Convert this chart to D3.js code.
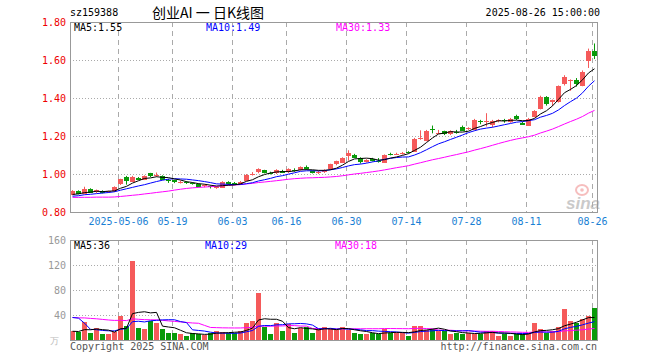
<!DOCTYPE html>
<html>
<head>
<meta charset="utf-8">
<script src="https://cdn.jsdelivr.net/npm/d3@7"></script>
<style>
  body { margin: 0; background: #fff; }
  text { font-family: "DejaVu Sans Mono", monospace; font-size: 10px; }
</style>
</head>
<body>
<div id="chart"></div>
<script>
// trading days shown
const dates = [
  "2025-04-21","2025-04-22","2025-04-23","2025-04-24","2025-04-25","2025-04-28","2025-04-29","2025-04-30",
  "2025-05-06","2025-05-07","2025-05-08","2025-05-09","2025-05-12","2025-05-13","2025-05-14","2025-05-15","2025-05-16",
  "2025-05-19","2025-05-20","2025-05-21","2025-05-22","2025-05-23","2025-05-26","2025-05-27","2025-05-28","2025-05-29","2025-05-30",
  "2025-06-03","2025-06-04","2025-06-05","2025-06-06","2025-06-09","2025-06-10","2025-06-11","2025-06-12","2025-06-13",
  "2025-06-16","2025-06-17","2025-06-18","2025-06-19","2025-06-20","2025-06-23","2025-06-24","2025-06-25","2025-06-26","2025-06-27",
  "2025-06-30","2025-07-01","2025-07-02","2025-07-03","2025-07-04","2025-07-07","2025-07-08","2025-07-09","2025-07-10","2025-07-11",
  "2025-07-14","2025-07-15","2025-07-16","2025-07-17","2025-07-18","2025-07-21","2025-07-22","2025-07-23","2025-07-24","2025-07-25",
  "2025-07-28","2025-07-29","2025-07-30","2025-07-31","2025-08-01","2025-08-04","2025-08-05","2025-08-06","2025-08-07","2025-08-08",
  "2025-08-11","2025-08-12","2025-08-13","2025-08-14","2025-08-15","2025-08-18","2025-08-19","2025-08-20","2025-08-21","2025-08-22",
  "2025-08-25","2025-08-26"
]

const open = [
  0.891,0.912,0.898,0.923,0.905,0.912,0.902,0.908,
  0.944,0.986,0.961,0.980,0.970,1.003,0.993,0.990,0.967,
  0.967,0.955,0.958,0.952,0.947,0.933,0.936,0.925,0.929,0.958,
  0.952,0.945,0.965,0.998,1.007,1.020,1.006,1.005,1.018,
  1.007,1.022,1.020,1.035,1.015,1.008,1.010,1.024,1.050,1.060,
  1.094,1.101,1.084,1.063,1.080,1.071,1.060,1.106,1.104,1.108,
  1.116,1.119,1.185,1.176,1.236,1.214,1.225,1.210,1.222,1.250,
  1.238,1.232,1.277,1.278,1.256,1.278,1.282,1.275,1.305,1.270,
  1.256,1.300,1.344,1.407,1.379,1.379,1.470,1.494,1.494,1.466,
  1.593,1.645
]
const high = [
  0.915,0.914,0.933,0.925,0.918,0.914,0.912,0.935,
  0.975,0.990,0.990,0.984,0.993,1.006,1.008,0.993,0.975,
  0.970,0.965,0.962,0.956,0.950,0.945,0.940,0.933,0.962,0.962,
  0.958,0.963,1.000,1.010,1.030,1.022,1.012,1.025,1.022,
  1.030,1.030,1.040,1.045,1.018,1.016,1.025,1.054,1.070,1.088,
  1.125,1.106,1.088,1.078,1.085,1.084,1.103,1.112,1.112,1.116,
  1.120,1.190,1.230,1.232,1.255,1.232,1.228,1.230,1.232,1.255,
  1.246,1.290,1.285,1.320,1.285,1.288,1.290,1.295,1.312,1.275,
  1.295,1.336,1.412,1.410,1.392,1.466,1.520,1.498,1.505,1.545,
  1.660,1.687
]
const low = [
  0.888,0.893,0.896,0.900,0.900,0.898,0.900,0.906,
  0.942,0.944,0.958,0.968,0.968,0.984,0.985,0.968,0.953,
  0.952,0.950,0.948,0.944,0.930,0.930,0.924,0.922,0.927,0.940,
  0.942,0.943,0.963,0.992,1.004,1.003,0.998,1.000,1.005,
  1.005,1.012,1.018,1.022,1.003,1.000,1.006,1.022,1.046,1.058,
  1.070,1.085,1.055,1.060,1.066,1.060,1.058,1.098,1.100,1.102,
  1.108,1.117,1.180,1.172,1.214,1.210,1.205,1.205,1.212,1.226,
  1.232,1.230,1.262,1.250,1.246,1.272,1.270,1.270,1.284,1.258,
  1.254,1.298,1.340,1.360,1.357,1.376,1.466,1.438,1.460,1.462,
  1.558,1.605
]
const close = [
  0.912,0.895,0.923,0.902,0.915,0.900,0.908,0.930,
  0.972,0.965,0.986,0.970,0.990,0.986,0.996,0.970,0.963,
  0.955,0.958,0.952,0.948,0.933,0.940,0.932,0.930,0.958,0.945,
  0.948,0.960,0.996,1.000,1.024,1.005,1.004,1.020,1.010,
  1.025,1.020,1.035,1.025,1.005,1.011,1.020,1.052,1.066,1.084,
  1.108,1.087,1.063,1.075,1.070,1.069,1.100,1.104,1.106,1.111,
  1.114,1.186,1.188,1.228,1.233,1.218,1.210,1.225,1.220,1.230,
  1.241,1.284,1.274,1.281,1.277,1.285,1.278,1.290,1.287,1.262,
  1.291,1.333,1.407,1.372,1.389,1.463,1.508,1.494,1.474,1.538,
  1.645,1.618
]
// volume, 万手
const volume = [
  15,13,29,12,19,10,9,13,
  39,23,127,19,18,30,27,17,12,
  12,10,7,11,9,8,12,15,13,11,
  11,14,28,31,76,21,10,28,15,
  25,12,19,21,12,17,21,17,16,21,
  16,12,9,10,11,9,17,12,12,11,
  7,23,23,16,18,15,14,9,11,10,
  12,10,10,15,14,7,10,7,10,9,
  12,27,17,12,14,21,50,30,27,33,
  39,51
]
// sessions before the first one shown, only used for the moving averages
const prevClose = [
  0.90,0.91,0.90,0.89,0.90,0.91,0.90,0.89,0.88,0.89,
  0.88,0.87,0.88,0.87,0.86,0.85,0.80,0.82,0.83,0.85,
  0.87,0.87,0.88,0.88,0.87,0.88,0.89,0.89,0.89
]
const prevVolume = [
  30,32,35,38,40,36,34,33,38,42,
  40,36,35,33,38,40,36,34,35,35,
  23,110,111,24,22,15,14,13,13
]

const tickDates = ["2025-05-06","2025-05-19","2025-06-03","2025-06-16","2025-06-30","2025-07-14","2025-07-28","2025-08-11","2025-08-26"]
const priceTicks = [0.8, 1.0, 1.2, 1.4, 1.6, 1.8]
const volTicks = [40, 80, 120, 160]

const RED = "#f55a5a", GREEN = "#0a9a0a"
const maColors = { 5: "#000000", 10: "#0000ff", 30: "#ff00ff" }

// moving averages over the visible days, using the earlier days to fill the window
function movingAvg(prev, vals, n) {
  const all = prev.concat(vals)
  return vals.map((v, i) => {
    const end = prev.length + i + 1
    return d3.mean(all.slice(end - n, end))
  })
}

const bars = dates.map((d, i) => ({
  date: d, o: open[i], h: high[i], l: low[i], c: close[i], v: volume[i],
  up: close[i] >= open[i]
}))

const svg = d3.select("#chart")
  .append("svg")
    .attr("width", 660)
    .attr("height", 360)

const L = 70, R = 598
const x = d3.scaleBand().domain(dates).range([L, R]).padding(0)
const cx = d => x(d) + 2.5

const yP = d3.scaleLinear().domain([0.8, 1.8]).range([212, 22])
const yV = d3.scaleLinear().domain([0, 160]).range([340, 240])

// header
svg.append("text").attr("x", 70).attr("y", 16).text("sz159388")
svg.append("text").attr("x", 152).attr("y", 18)
  .style("font-family", "'Noto Sans CJK SC', sans-serif").style("font-size", "14px")
  .text("创业AI 一 日K线图")
svg.append("text").attr("x", 600).attr("y", 16).attr("text-anchor", "end").text("2025-08-26 15:00:00")

// sina watermark
const wm = svg.append("g").attr("opacity", 0.55)
wm.append("ellipse").attr("cx", 582).attr("cy", 190).attr("rx", 6).attr("ry", 5)
  .attr("fill", "none").attr("stroke", "#f08a8a").attr("stroke-width", 2)
wm.append("circle").attr("cx", 582).attr("cy", 190).attr("r", 1.8).attr("fill", "#f08a8a")
wm.append("text").attr("x", 566).attr("y", 209)
  .style("font-family", "'Liberation Sans', sans-serif").style("font-size", "17px")
  .style("font-style", "italic").style("font-weight", "bold")
  .attr("fill", "#a0a0a0").text("sina")

function pane(top, bottom) {
  const g = svg.append("g")
  // vertical dashed date lines
  g.selectAll("line.vg")
    .data(tickDates)
    .join("line")
      .attr("class", "vg")
      .attr("x1", d => x(d) + 0.5).attr("x2", d => x(d) + 0.5)
      .attr("y1", top).attr("y2", bottom)
      .attr("stroke", "#aaa").attr("stroke-dasharray", "5,4")
  return g
}

// ---- price pane
const gp = pane(22, 212)
gp.selectAll("line.hg")
  .data(priceTicks.slice(1, -1))
  .join("line")
    .attr("x1", L).attr("x2", R)
    .attr("y1", d => Math.round(yP(d)) + 0.5).attr("y2", d => Math.round(yP(d)) + 0.5)
    .attr("stroke", "#aaa").attr("stroke-dasharray", "1,2")

svg.append("g")
  .selectAll("text")
  .data(priceTicks)
  .join("text")
    .attr("x", 66).attr("y", d => yP(d) + 4)
    .attr("text-anchor", "end").attr("fill", "#ee0000")
    .text(d => d.toFixed(2))

svg.append("g")
  .selectAll("text")
  .data(tickDates)
  .join("text")
    .attr("x", d => x(d) + 0.5).attr("y", 225)
    .attr("text-anchor", "middle").attr("fill", "#1a7fd4")
    .text((d, i) => i === 0 ? d : d.slice(5))

// candles
const candles = svg.append("g")
  .selectAll("g")
  .data(bars)
  .join("g")
candles.append("line")
  .attr("x1", d => cx(d.date)).attr("x2", d => cx(d.date))
  .attr("y1", d => yP(d.h)).attr("y2", d => yP(d.l))
  .attr("stroke", d => d.up ? RED : GREEN)
candles.append("rect")
  .attr("x", d => x(d.date)).attr("width", 5)
  .attr("y", d => Math.round(yP(Math.max(d.o, d.c))))
  .attr("height", d => Math.max(1, Math.round(Math.abs(yP(d.o) - yP(d.c)))))
  .attr("fill", d => d.up ? RED : GREEN)

const priceMA = {}
;[30, 10, 5].forEach(n => {
  priceMA[n] = movingAvg(prevClose, close, n)
  svg.append("path")
    .datum(priceMA[n])
    .attr("fill", "none").attr("stroke", maColors[n]).attr("stroke-width", 1)
    .attr("d", d3.line().x((d, i) => cx(dates[i])).y(d => yP(d)))
})

svg.append("rect").attr("x", L + 0.5).attr("y", 22.5).attr("width", R - L - 1).attr("height", 190)
  .attr("fill", "none").attr("stroke", "#999")

const last = dates.length - 1
svg.append("text").attr("x", 74).attr("y", 31).attr("fill", maColors[5]).text("MA5:" + priceMA[5][last].toFixed(2))
svg.append("text").attr("x", 206).attr("y", 31).attr("fill", maColors[10]).text("MA10:" + priceMA[10][last].toFixed(2))
svg.append("text").attr("x", 336).attr("y", 31).attr("fill", maColors[30]).text("MA30:" + priceMA[30][last].toFixed(2))

// ---- volume pane
const gv = pane(240, 340)
gv.selectAll("line.hg")
  .data(volTicks.slice(0, -1))
  .join("line")
    .attr("x1", L).attr("x2", R)
    .attr("y1", d => Math.round(yV(d)) + 0.5).attr("y2", d => Math.round(yV(d)) + 0.5)
    .attr("stroke", "#aaa").attr("stroke-dasharray", "1,2")

svg.append("g")
  .selectAll("text")
  .data(volTicks)
  .join("text")
    .attr("x", 66).attr("y", d => yV(d) + 4)
    .attr("text-anchor", "end").attr("fill", "#999")
    .text(d => d)
svg.append("text").attr("x", 50).attr("y", 344).attr("fill", "#bbb").style("font-size", "9px").text("万")

svg.append("g")
  .selectAll("rect")
  .data(bars)
  .join("rect")
    .attr("x", d => x(d.date)).attr("width", 5)
    .attr("y", d => Math.round(yV(d.v)))
    .attr("height", d => 340 - Math.round(yV(d.v)))
    .attr("fill", d => d.up ? RED : GREEN)

const volMA = {}
;[30, 10, 5].forEach(n => {
  volMA[n] = movingAvg(prevVolume, volume, n)
  svg.append("path")
    .datum(volMA[n])
    .attr("fill", "none").attr("stroke", maColors[n]).attr("stroke-width", 1)
    .attr("d", d3.line().x((d, i) => cx(dates[i])).y(d => yV(d)))
})

svg.append("rect").attr("x", L + 0.5).attr("y", 240.5).attr("width", R - L - 1).attr("height", 100)
  .attr("fill", "none").attr("stroke", "#999")

svg.append("text").attr("x", 74).attr("y", 249).attr("fill", maColors[5]).text("MA5:" + Math.round(volMA[5][last]))
svg.append("text").attr("x", 205).attr("y", 249).attr("fill", maColors[10]).text("MA10:" + Math.round(volMA[10][last]))
svg.append("text").attr("x", 335).attr("y", 249).attr("fill", maColors[30]).text("MA30:" + Math.round(volMA[30][last]))

// footer
svg.append("text").attr("x", 70).attr("y", 350).attr("fill", "#555").text("Copyright 2025 SINA.COM")
svg.append("text").attr("x", 597).attr("y", 350).attr("text-anchor", "end").attr("fill", "#555").text("http://finance.sina.com.cn")
</script>
</body>
</html>
